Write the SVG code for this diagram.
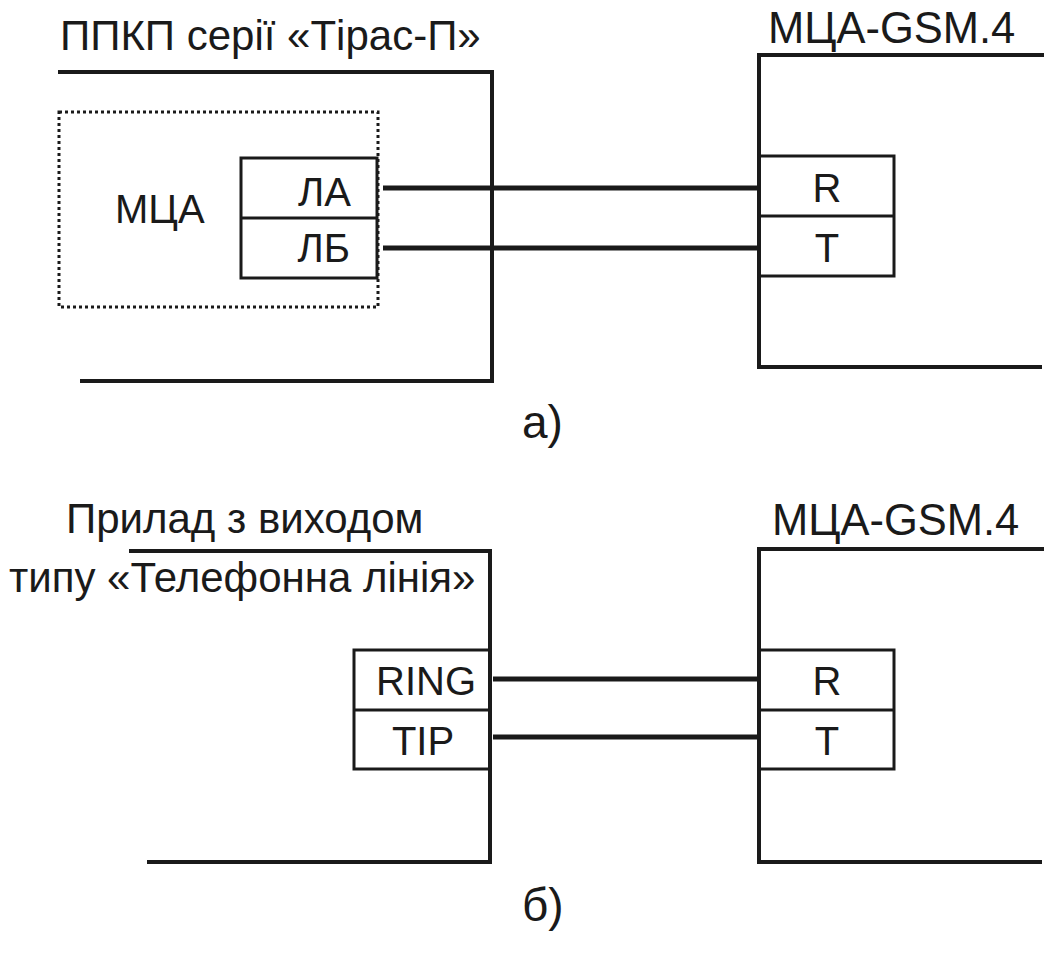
<svg xmlns="http://www.w3.org/2000/svg" width="1044" height="958" viewBox="0 0 1044 958">
<style>
text{font-family:"Liberation Sans",Arial,sans-serif;fill:#1a1a1a;font-size:40px}
.t{font-size:42px}
.g{font-size:43.5px}
.lbl{font-size:46px}
.frame{fill:none;stroke:#1a1a1a;stroke-width:4;stroke-linecap:square}
.port{fill:none;stroke:#1a1a1a;stroke-width:3}
.dot{fill:none;stroke:#1a1a1a;stroke-width:3;stroke-dasharray:3,3}
.wire{stroke:#1a1a1a;stroke-width:5}
.c{text-anchor:middle}
</style>
<rect width="1044" height="958" fill="#fff"/>
<g id="ppkp">
<polyline class="frame" points="60,72 492,72 492,381 82,381"/>
<text class="t" x="60" y="50">ППКП серії «Тірас-П»</text>
</g>
<g id="mca">
<rect class="dot" x="59" y="112" width="319" height="195"/>
<text x="115" y="223" font-size="41">МЦА</text>
<rect class="port" x="241" y="158" width="136" height="120"/>
<line class="port" x1="241" y1="218" x2="377" y2="218"/>
<text x="351" y="206" text-anchor="end">ЛА</text>
<text x="350" y="262" text-anchor="end">ЛБ</text>
</g>
<g id="gsm-a">
<polyline class="frame" points="1046,55 759,55 759,367 1040,367"/>
<text class="g" x="768" y="43">МЦА-GSM.4</text>
<rect class="port" x="759" y="156" width="135" height="120"/>
<line class="port" x1="759" y1="216" x2="894" y2="216"/>
<text class="c" x="827" y="202">R</text>
<text class="c" x="827" y="262">T</text>
</g>
<g id="device">
<polyline class="frame" points="131,551 490,551 490,862 149,862"/>
<text class="t" x="66" y="533">Прилад з виходом</text>
<text class="t" x="9" y="592">типу «Телефонна лінія»</text>
<rect class="port" x="354" y="650" width="136" height="119"/>
<line class="port" x1="354" y1="710" x2="490" y2="710"/>
<text x="476" y="695" text-anchor="end" font-size="41.5">RING</text>
<text class="c" x="423" y="755" font-size="41.5">TIP</text>
</g>
<g id="gsm-b">
<polyline class="frame" points="1046,549 759,549 759,862 1040,862"/>
<text class="g" x="772" y="535">МЦА-GSM.4</text>
<rect class="port" x="759" y="650" width="135" height="119"/>
<line class="port" x1="759" y1="710" x2="894" y2="710"/>
<text class="c" x="827" y="695">R</text>
<text class="c" x="827" y="755">T</text>
</g>
<g id="connectors">
<line class="wire" x1="383" y1="188" x2="759" y2="188"/>
<line class="wire" x1="383" y1="248" x2="759" y2="248"/>
<line class="wire" x1="493" y1="679" x2="759" y2="679"/>
<line class="wire" x1="493" y1="737" x2="759" y2="737"/>
</g>
<text class="lbl" x="522" y="438">а)</text>
<text class="lbl" x="522" y="921">б)</text>
</svg>
